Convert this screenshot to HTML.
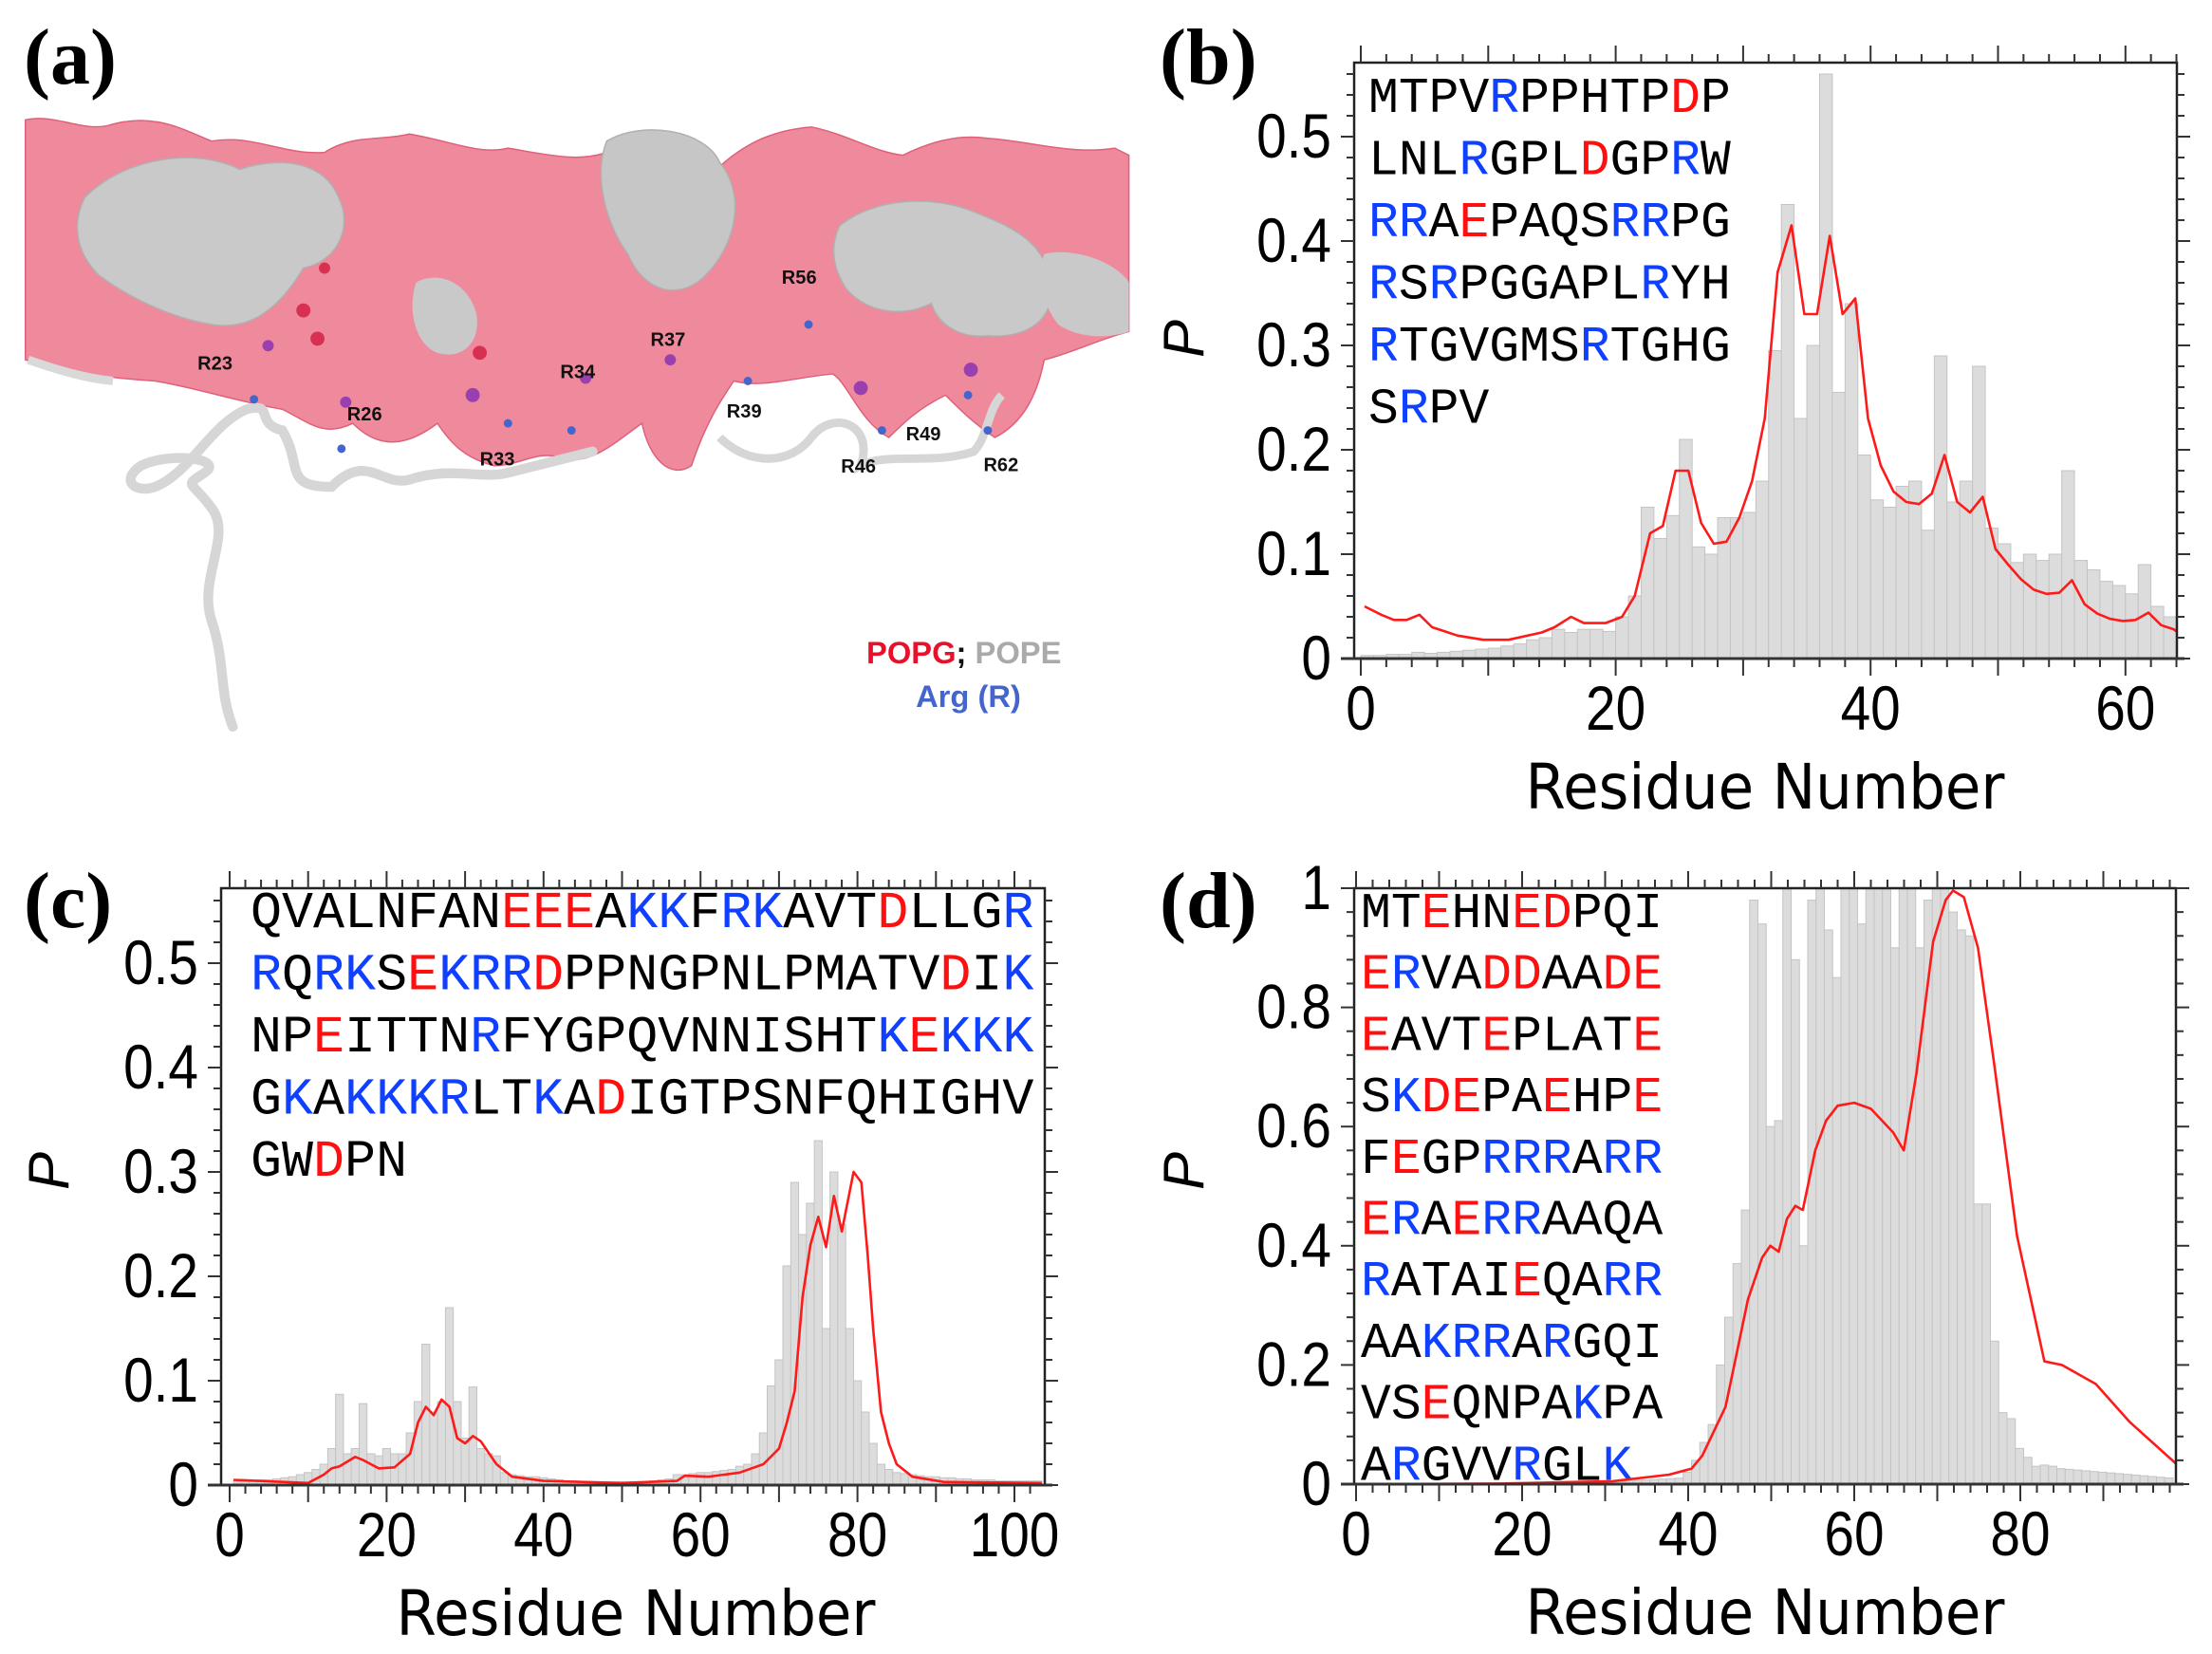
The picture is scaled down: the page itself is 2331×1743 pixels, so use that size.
<!DOCTYPE html>
<html><head><meta charset="utf-8"><style>
html,body{margin:0;padding:0;background:#fff;}
svg{display:block;}
</style></head><body>
<svg id="s" width="2331" height="1743" viewBox="0 0 2331 1743" xmlns="http://www.w3.org/2000/svg">
<rect width="2331" height="1743" fill="#fff"/>
<g transform="scale(1.487)">
  <path d="M18,85 C40,80 60,95 80,88 C110,80 130,92 150,100 C180,95 200,110 230,108 C250,95 270,100 290,95 C320,100 340,110 360,105 C390,110 410,115 430,108 C460,105 490,112 510,118 C530,100 550,92 575,90 C600,95 620,108 640,110 C660,100 680,95 700,98 C730,100 760,110 790,105 L800,110 L800,235 C780,240 760,250 740,255 C735,280 725,300 705,310 C690,300 680,290 670,280 C650,290 640,300 630,310 C610,300 600,270 590,265 C560,268 540,275 520,270 C510,285 500,300 490,330 C475,340 460,325 455,300 C440,310 420,330 400,325 C380,318 370,330 350,330 C330,325 320,315 310,300 C290,315 270,320 250,300 C230,310 220,300 200,290 C170,285 140,275 110,270 C80,268 50,265 18,255 Z" fill="#ee8a9c" stroke="#e0607a" stroke-width="1"/>
  <path d="M60,140 C90,110 140,105 170,120 C200,110 230,115 240,140 C250,160 240,185 215,190 C200,215 180,235 150,230 C120,225 90,210 70,195 C55,180 50,160 60,140 Z" fill="#c9c9c9" stroke="#b0b0b0"/>
  <path d="M430,100 C455,85 500,92 510,115 C530,140 520,175 500,195 C480,215 455,205 445,180 C430,160 420,125 430,100 Z" fill="#c6c6c6" stroke="#b0b0b0"/>
  <path d="M295,200 C315,190 335,205 338,225 C340,245 325,255 310,250 C295,245 288,220 295,200 Z" fill="#c9c9c9"/>
  <path d="M595,160 C620,140 660,138 690,150 C715,160 740,170 745,200 C748,225 730,240 700,238 C680,240 665,230 660,215 C640,225 615,222 600,205 C590,190 588,175 595,160 Z" fill="#c9c9c9" stroke="#b0b0b0"/>
  <path d="M740,180 C760,175 790,185 800,200 L800,235 C785,240 765,240 750,230 C738,215 735,195 740,180 Z" fill="#c9c9c9"/>
  <path d="M20,255 C40,262 60,268 80,270" stroke="#d9d9d9" stroke-width="6" fill="none"/>
  <path d="M165,515 C155,490 160,470 150,440 C140,410 165,380 150,360 C135,340 130,345 145,335 C160,325 120,320 100,330 C85,340 95,350 110,345 C135,335 150,300 175,290 C195,285 180,300 200,305 C215,330 200,345 235,345 C260,320 270,345 290,340 C320,330 340,340 360,335 C380,330 400,325 420,320" stroke="#d6d6d6" stroke-width="7" fill="none" stroke-linecap="round"/>
  <path d="M510,310 C530,330 560,330 575,310 C590,290 620,300 610,330 C630,320 660,330 690,320 C700,310 700,290 710,280" stroke="#d6d6d6" stroke-width="6" fill="none"/>
  <g fill="#4466cc"><circle cx="180" cy="283" r="3"/><circle cx="242" cy="318" r="3"/><circle cx="360" cy="300" r="3"/><circle cx="405" cy="305" r="3"/><circle cx="530" cy="270" r="3"/><circle cx="625" cy="305" r="3"/><circle cx="686" cy="280" r="3"/><circle cx="700" cy="305" r="3"/><circle cx="573" cy="230" r="3"/></g>
  <g fill="#9a3fb0"><circle cx="190" cy="245" r="4"/><circle cx="245" cy="285" r="4"/><circle cx="335" cy="280" r="5"/><circle cx="415" cy="268" r="4"/><circle cx="475" cy="255" r="4"/><circle cx="610" cy="275" r="5"/><circle cx="688" cy="262" r="5"/></g>
  <g fill="#d83050"><circle cx="215" cy="220" r="5"/><circle cx="225" cy="240" r="5"/><circle cx="340" cy="250" r="5"/><circle cx="230" cy="190" r="4"/></g>
  <g font-family="'Liberation Sans',sans-serif" font-weight="bold" font-size="13.5" fill="#111">
    <text x="140" y="262">R23</text><text x="246" y="298">R26</text><text x="340" y="330">R33</text>
    <text x="397" y="268">R34</text><text x="461" y="245">R37</text><text x="515" y="296">R39</text>
    <text x="554" y="201">R56</text><text x="596" y="335">R46</text><text x="642" y="312">R49</text><text x="697" y="334">R62</text>
  </g>
  <text x="614" y="470" font-family="'Liberation Sans',sans-serif" font-weight="bold" font-size="22" fill="#e8102a">POPG<tspan fill="#111">;</tspan> <tspan fill="#aaaaaa">POPE</tspan></text>
  <text x="649" y="501" font-family="'Liberation Sans',sans-serif" font-weight="bold" font-size="22" fill="#4466cc">Arg (R)</text>
</g>
<g font-family="'Liberation Serif',serif" font-weight="bold" font-size="84" fill="#000">
  <text x="25" y="88">(a)</text><text x="1222" y="88">(b)</text><text x="25" y="977">(c)</text><text x="1222" y="977">(d)</text>
</g>
<g id="plots"></g>
</svg>
<script>
var NS="http://www.w3.org/2000/svg";
var root=document.getElementById('plots');
function el(t,a,p){var e=document.createElementNS(NS,t);for(var k in a)e.setAttribute(k,a[k]);(p||root).appendChild(e);return e;}
function txt(x,y,s,a){var e=el('text',Object.assign({x:x,y:y},a));e.textContent=s;return e;}
function panel(o){
  var X=function(v){return o.x0+(v)*o.xs;}, Y=function(v){return o.yb-v*o.ys;};
  var g=el('g',{});
  o.bars.forEach(function(b){var x1=X(b[0]),x2=X(b[0]+1),h=Math.min(b[1],o.ymax)*o.ys;
    if(x1<o.L)x1=o.L; if(x2>o.R)x2=o.R; if(x2<=x1)return;
    el('rect',{x:x1,y:o.yb-h,width:x2-x1,height:h,fill:'#dcdcdc',stroke:'#c4c4c4','stroke-width':1},g);});
  var tg=el('text',{'font-family':"'Liberation Mono',monospace",'font-size':o.fs,fill:'#000'},g);
  o.seq.forEach(function(line,i){
    var ts=el('tspan',{x:o.sx,y:o.sy+i*o.sdy},tg);
    for(var j=0;j<line.length;j++){var c=line[j];var t=el('tspan',{fill:c=='R'||c=='K'?'#1040ff':(c=='E'||c=='D'?'#ff1010':'#000')},ts);t.textContent=c;}
  });
  var d=o.line.map(function(p,i){return (i?'L':'M')+X(p[0]).toFixed(1)+','+Y(p[1]).toFixed(1);}).join(' ');
  el('path',{d:d,fill:'none',stroke:'#ff1a1a','stroke-width':2.6,'stroke-linejoin':'round'},g);
  el('rect',{x:o.L,y:o.T,width:o.R-o.L,height:o.yb-o.T,fill:'none',stroke:'#222','stroke-width':2.5},g);
  for(var v=0;v<=o.ymax+1e-9;v+=o.ymin){var y=Y(v);var maj=Math.abs(v/o.ymaj-Math.round(v/o.ymaj))<1e-6;var l=maj?14:8;
    el('line',{x1:o.L-l,x2:o.L,y1:y,y2:y,stroke:'#333','stroke-width':2},g);el('line',{x1:o.R,x2:o.R+l,y1:y,y2:y,stroke:'#333','stroke-width':2},g);}
  for(var v=0;X(v)<=o.R+1;v+=o.xmin){var x=X(v);var maj=(v%o.xmaj)==0;var l=maj?18:9;
    el('line',{x1:x,x2:x,y1:o.yb,y2:o.yb+l,stroke:'#333','stroke-width':2},g);el('line',{x1:x,x2:x,y1:o.T-l,y2:o.T,stroke:'#333','stroke-width':2},g);}
  el('line',{x1:o.L-14,x2:o.R+8,y1:o.yb,y2:o.yb,stroke:'#333','stroke-width':3},g);
  o.yl.forEach(function(v){var t=txt(o.L-24,Y(v)+22,o.yfmt(v),{'font-family':"'Liberation Sans',sans-serif",'font-size':66,'text-anchor':'end',fill:'#000'});t.setAttribute('transform','translate('+(o.L-24)+',0) scale(0.86,1) translate('+(-(o.L-24))+',0)');});
  o.xl.forEach(function(v){var t=txt(X(v),o.yb+75,String(v),{'font-family':"'Liberation Sans',sans-serif",'font-size':66,'text-anchor':'middle',fill:'#000'});t.setAttribute('transform','translate('+X(v)+',0) scale(0.86,1) translate('+(-X(v))+',0)');});
  txt(o.xc,o.yb+158,'Residue Number',{'font-family':"'DejaVu Sans',sans-serif",'font-size':66,'text-anchor':'middle',textLength:505,lengthAdjust:'spacingAndGlyphs',fill:'#000'});
  var p=txt(0,0,'P',{'font-family':"'Liberation Sans',sans-serif",'font-style':'italic','font-size':60,'text-anchor':'middle',fill:'#000'});
  p.setAttribute('transform','translate('+o.px+','+o.py+') rotate(-90)');
}
function arr(start,vals){return vals.map(function(v,i){return [start+i,v];});}
var bb=arr(0,[0.003,0.003,0.004,0.004,0.006,0.005,0.006,0.007,0.008,0.009,0.01,0.012,0.014,0.018,0.02,0.028,0.025,0.028,0.028,0.026,0.04,0.06,0.145,0.115,0.137,0.21,0.107,0.1,0.135,0.135,0.14,0.17,0.295,0.435,0.23,0.30,0.56,0.255,0.34,0.195,0.152,0.145,0.165,0.17,0.123,0.29,0.15,0.17,0.28,0.125,0.11,0.092,0.1,0.094,0.1,0.18,0.094,0.085,0.074,0.07,0.062,0.09,0.05,0.04]);
var lb=[[0.3,0.05],[1,0.042],[2,0.037],[3,0.037],[4,0.042],[5,0.03],[7,0.022],[9,0.018],[11,0.018],[13,0.025],[14,0.03],[15.3,0.04],[16.3,0.034],[18,0.034],[19.3,0.04],[20.3,0.06],[21.5,0.12],[22.5,0.127],[23.5,0.18],[24.5,0.18],[25.5,0.13],[26.5,0.11],[27.5,0.112],[28.5,0.135],[29.5,0.17],[30.5,0.23],[31.5,0.37],[32.6,0.415],[33.6,0.33],[34.6,0.33],[35.6,0.405],[36.6,0.33],[37.6,0.345],[38.6,0.23],[39.6,0.185],[40.6,0.16],[41.6,0.15],[42.6,0.148],[43.6,0.158],[44.6,0.195],[45.6,0.15],[46.6,0.14],[47.6,0.155],[48.6,0.105],[49.6,0.09],[50.6,0.076],[51.6,0.066],[52.6,0.062],[53.6,0.063],[54.6,0.075],[55.6,0.052],[56.6,0.043],[57.6,0.038],[58.6,0.036],[59.6,0.037],[60.6,0.044],[61.6,0.032],[62.6,0.028],[63,0.026]];
lb=lb.map(function(p,i){return i==0?p:[Math.min(64,p[0]+(p[0]>12?1.2:0.6)),p[1]];});
panel({x0:1434,xs:13.43,yb:694,ys:1100,L:1427,R:2294,T:66,ymax:0.571,ymin:0.02,ymaj:0.1,xmin:2,xmaj:10,
 bars:bb,line:lb,fs:53,sx:1442,sy:118,sdy:65.5,
 seq:['MTPVRPPHTPDP','LNLRGPLDGPRW','RRAEPAQSRRPG','RSRPGGAPLRYH','RTGVGMSRTGHG','SRPV'],
 yl:[0,0.1,0.2,0.3,0.4,0.5],yfmt:function(v){return v==0?'0':v.toFixed(1);},xl:[0,20,40,60],xc:1860,px:1268,py:357});
var cv=[0.004,0.004,0.004,0.005,0.005,0.006,0.007,0.008,0.01,0.012,0.015,0.02,0.035,0.087,0.03,0.035,0.078,0.03,0.028,0.035,0.03,0.03,0.05,0.08,0.135,0.07,0.08,0.17,0.08,0.045,0.094,0.035,0.03,0.028,0.012,0.01,0.009,0.008,0.008,0.007,0.006,0.005,0.004,0.004,0.003,0.003,0.003,0.003,0.003,0.003,0.003,0.003,0.003,0.004,0.005,0.006,0.01,0.01,0.011,0.012,0.012,0.013,0.014,0.015,0.018,0.02,0.03,0.05,0.095,0.12,0.21,0.29,0.24,0.27,0.33,0.15,0.3,0.25,0.15,0.1,0.07,0.04,0.02,0.015,0.012,0.011,0.01,0.009,0.008,0.008,0.007,0.007,0.006,0.006,0.005,0.005,0.005,0.004,0.004,0.004,0.004,0.004,0.004];
var bc=arr(0.5,cv);
var lc=[[0.5,0.005],[10,0.002],[12,0.01],[13,0.016],[14,0.018],[16,0.027],[17,0.024],[19,0.016],[21,0.017],[23,0.03],[24,0.06],[25,0.075],[26,0.067],[27,0.082],[28,0.075],[29,0.045],[30,0.04],[31,0.047],[32,0.042],[34,0.02],[36,0.008],[40,0.004],[50,0.002],[57,0.004],[58,0.009],[61,0.008],[65,0.012],[68,0.02],[70,0.035],[71,0.06],[72,0.09],[73,0.18],[74,0.23],[75,0.257],[76,0.228],[77,0.277],[78,0.243],[79.5,0.3],[80.5,0.29],[81.3,0.22],[82,0.15],[83,0.07],[84,0.04],[85,0.02],[87,0.008],[91,0.003],[103.5,0.002]];
panel({x0:242,xs:8.27,yb:1565,ys:1100,L:233,R:1101,T:936,ymax:0.57,ymin:0.02,ymaj:0.1,xmin:2,xmaj:10,
 bars:bc,line:lc,fs:55,sx:264,sy:977,sdy:65.5,
 seq:['QVALNFANEEEAKKFRKAVTDLLGR','RQRKSEKRRDPPNGPNLPMATVDIK','NPEITTNRFYGPQVNNISHTKEKKK','GKAKKKRLTKADIGTPSNFQHIGHV','GWDPN'],
 yl:[0,0.1,0.2,0.3,0.4,0.5],yfmt:function(v){return v==0?'0':v.toFixed(1);},xl:[0,20,40,60,80,100],xc:670,px:72,py:1234});
var dv={38:0.01,39:0.02,40:0.04,41:0.07,42:0.1,43:0.2,44:0.28,45:0.37,46:0.46,47:0.98,48:0.94,49:0.6,50:0.61,51:1.0,52:0.88,53:0.4,54:0.98,55:1.0,56:0.93,57:0.85,58:1.0,59:1.0,60:0.94,61:1.0,62:1.0,63:1.0,64:0.9,65:1.0,66:1.0,67:0.9,68:0.98,69:1.0,70:1.0,71:0.96,72:0.93,73:0.92,74:0.47,75:0.47,76:0.24,77:0.12,78:0.11,79:0.06,80:0.045,81:0.03,82:0.032,83:0.03};
var bd=[];for(var i=0;i<98;i++){var v=dv[i];if(v===undefined)v=i<38?Math.max(0.001,0.01*(i-25)/13):Math.max(0.008,0.026-(i-84)*0.0012);bd.push([i+0.4,v]);}
var ld=[[0,0],[17.4,0.001],[30.9,0.005],[37.7,0.016],[40.4,0.026],[41.7,0.048],[44.5,0.13],[47.2,0.31],[48.9,0.38],[49.9,0.40],[50.9,0.39],[51.9,0.445],[52.9,0.467],[53.8,0.46],[55.3,0.56],[56.6,0.61],[58,0.635],[60,0.64],[62,0.63],[64.7,0.59],[65.97,0.56],[67.5,0.69],[69.5,0.91],[71,0.98],[71.9,0.996],[73.2,0.985],[74.9,0.9],[76.9,0.7],[79.6,0.417],[82.9,0.206],[85,0.2],[89.1,0.168],[93.2,0.104],[98.7,0.035]];
panel({x0:1429,xs:8.75,yb:1564,ys:628,L:1427,R:2293,T:936,ymax:1.0,ymin:0.04,ymaj:0.2,xmin:2,xmaj:10,
 bars:bd,line:ld,fs:53,sx:1434,sy:977,sdy:64.7,
 seq:['MTEHNEDPQI','ERVADDAADE','EAVTEPLATE','SKDEPAEHPE','FEGPRRRARR','ERAERRAAQA','RATAIEQARR','AAKRRARGQI','VSEQNPAKPA','ARGVVRGLK'],
 yl:[0,0.2,0.4,0.6,0.8,1],yfmt:function(v){return v==0?'0':(v==1?'1':v.toFixed(1));},xl:[0,20,40,60,80],xc:1860,px:1268,py:1234});
</script>
</body></html>
